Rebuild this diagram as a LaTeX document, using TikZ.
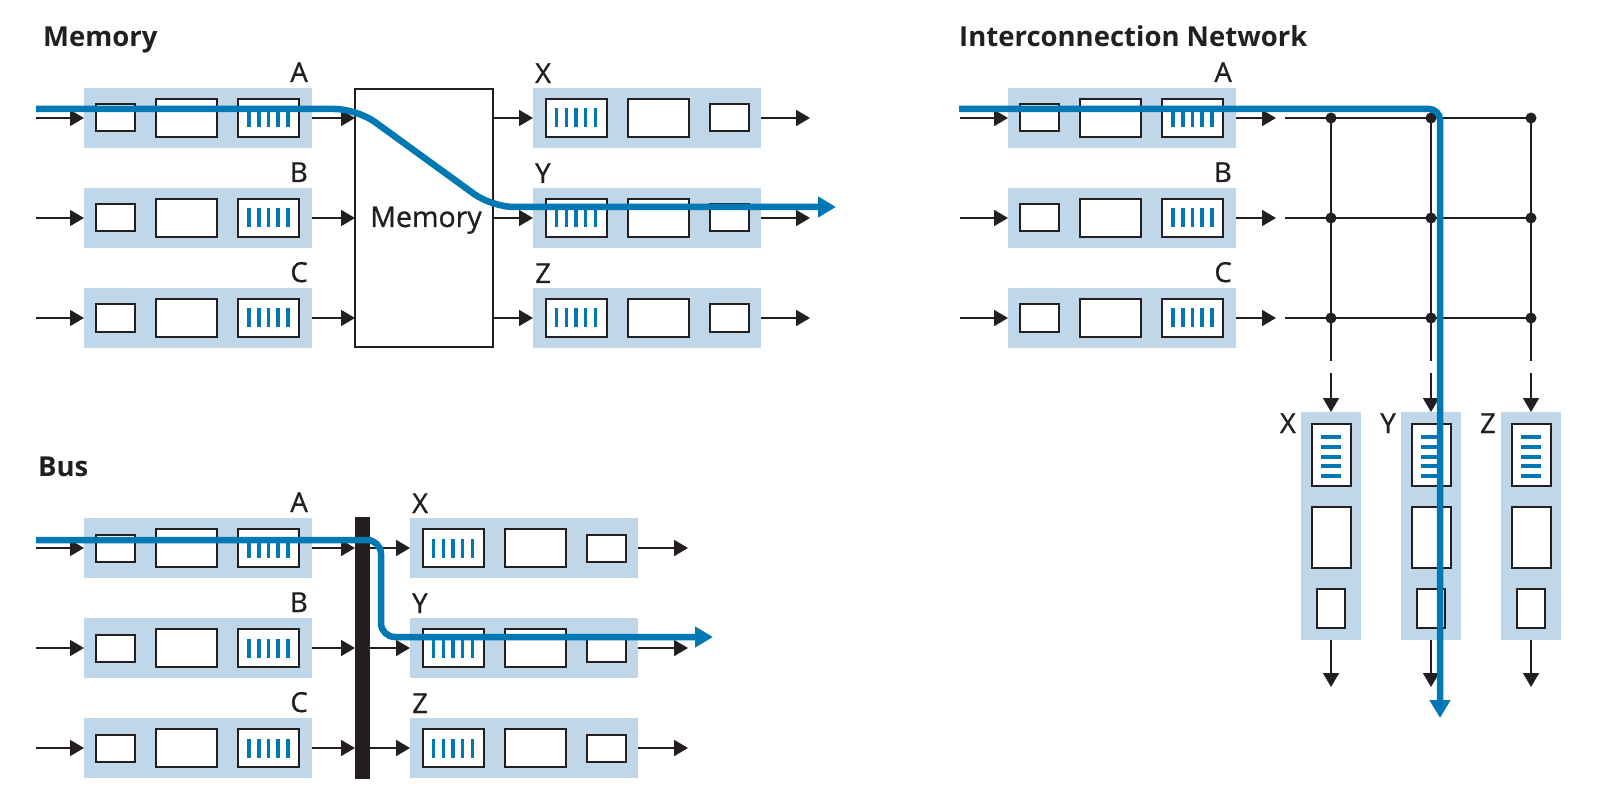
\documentclass[tikz,border=0pt]{standalone}
\usepackage{fontspec}
\setmainfont{Open Sans}
\newfontfamily\labelfont[RawFeature={embolden=0.9}]{Open Sans}
\usetikzlibrary{arrows.meta}

\definecolor{ink}{HTML}{231F20}
\definecolor{portfill}{HTML}{BFD7E9}
\definecolor{flow}{HTML}{0078B3}

\tikzset{
  portbg/.style={fill=portfill, minimum width=228pt, minimum height=60pt, inner sep=0pt, outer sep=0pt},
  portbgv/.style={fill=portfill, minimum width=60pt, minimum height=228pt, inner sep=0pt, outer sep=0pt},
  cell/.style={draw=ink, fill=white, line width=2pt, inner sep=0pt, outer sep=0pt},
  qbar/.style={draw=flow, line width=3.5pt},
  arr/.style={draw=ink, line width=1.8pt, -{Triangle[length=14pt,width=16pt]}},
  gline/.style={draw=ink, line width=2.4pt},
  gdot/.style={circle, fill=ink, minimum size=11pt, inner sep=0pt},
  lbl/.style={font=\labelfont\fontsize{27.5pt}{30pt}\selectfont, text=ink, inner sep=0pt},
  ttl/.style={font=\fontsize{27.5pt}{30pt}\selectfont\bfseries, text=ink, inner sep=0pt, anchor=base west},
  flowline/.style={draw=flow, line width=6.5pt, -{Triangle[length=18pt,width=20pt]}},
}

% input port: name, left x, centre y, label
\newcommand\inport[4]{%
  \node[portbg, anchor=west] (#1) at (#2,#3) {};
  \node[cell, minimum width=39pt, minimum height=27pt] (#1s) at ([xshift=31.5pt]#1.west) {};
  \node[cell, minimum width=61pt, minimum height=38pt] (#1m) at ([xshift=102.5pt]#1.west) {};
  \node[cell, minimum width=61pt, minimum height=38pt] (#1q) at ([xshift=184.5pt]#1.west) {};
  \foreach \k in {-2,...,2}
    \draw[qbar] ([xshift=\k*9.7pt, yshift=-9.5pt]#1q.center) -- ([xshift=\k*9.7pt, yshift=9.5pt]#1q.center);
  \node[lbl, anchor=base east] (#1l) at ([xshift=-4pt, yshift=6pt]#1.north east) {#4};
}

% output port (mirrored): name, left x, centre y, label
\newcommand\outport[4]{%
  \node[portbg, anchor=west] (#1) at (#2,#3) {};
  \node[cell, minimum width=61pt, minimum height=38pt] (#1q) at ([xshift=43pt]#1.west) {};
  \node[cell, minimum width=61pt, minimum height=38pt] (#1m) at ([xshift=125.5pt]#1.west) {};
  \node[cell, minimum width=39pt, minimum height=27pt] (#1s) at ([xshift=196.5pt]#1.west) {};
  \foreach \k in {-2,...,2}
    \draw[qbar] ([xshift=\k*9.7pt, yshift=-9.5pt]#1q.center) -- ([xshift=\k*9.7pt, yshift=9.5pt]#1q.center);
  \node[lbl, anchor=base west] (#1l) at ([xshift=2pt, yshift=5pt]#1.north west) {#4};
}

% vertical output port: name, centre x, top y, label
\newcommand\colport[4]{%
  \node[portbgv, anchor=north] (#1) at (#2,#3) {};
  \node[cell, minimum width=39pt, minimum height=62pt] (#1q) at ([yshift=-43pt]#1.north) {};
  \node[cell, minimum width=39pt, minimum height=61pt] (#1m) at ([yshift=-125.5pt]#1.north) {};
  \node[cell, minimum width=28pt, minimum height=39pt] (#1s) at ([yshift=-196.5pt]#1.north) {};
  \foreach \k in {-2,...,2}
    \draw[qbar, line width=4pt] ([xshift=-10pt, yshift=\k*9.75pt-1.5pt]#1q.center) -- ([xshift=10pt, yshift=\k*9.75pt-1.5pt]#1q.center);
  \node[lbl, anchor=base east] (#1l) at ([xshift=-5pt, yshift=-21pt]#1.north west) {#4};
}

\begin{document}
\begin{tikzpicture}[x=1pt, y=-1pt]
  \fill[white] (0,0) rectangle (1617,810);
  \useasboundingbox (0,0) rectangle (1617,810);

  % ---------- shared memory switch ----------
  \node[ttl] (tmem) at (43,47) {Memory};
  \inport{mA}{84}{118}{A}
  \inport{mB}{84}{218}{B}
  \inport{mC}{84}{318}{C}
  \node[draw=ink, line width=2pt, minimum width=138pt, minimum height=258pt, inner sep=0pt, outer sep=0pt] (mem) at (424,218) {};
  \node[lbl, font=\labelfont\fontsize{28.5pt}{30pt}\selectfont, anchor=base] (memt) at (426,227) {Memory};
  \outport{mX}{533}{118}{X}
  \outport{mY}{533}{218}{Y}
  \outport{mZ}{533}{318}{Z}
  \foreach \p/\q/\y in {A/X/118, B/Y/218, C/Z/318} {
    \coordinate (m\p in) at (36,\y);
    \coordinate (m\q out) at (810,\y);
    \draw[arr] (m\p in) -- (m\p.west);
    \draw[arr] (m\p.east) -- (mem.west |- m\p.east);
    \draw[arr] (mem.east |- m\q.west) -- (m\q.west);
    \draw[arr] (m\q.east) -- (m\q out);
  }

  % ---------- shared bus switch ----------
  \node[ttl] (tbus) at (38,476) {Bus};
  \inport{bA}{84}{548}{A}
  \inport{bB}{84}{648}{B}
  \inport{bC}{84}{748}{C}
  \node[fill=ink, minimum width=15pt, minimum height=262pt, inner sep=0pt, outer sep=0pt, anchor=north west] (bus) at (355,517) {};
  \outport{bX}{410}{548}{X}
  \outport{bY}{410}{648}{Y}
  \outport{bZ}{410}{748}{Z}
  \foreach \p/\q/\y in {A/X/548, B/Y/648, C/Z/748} {
    \coordinate (b\p in) at (36,\y);
    \coordinate (b\q out) at (688,\y);
    \draw[arr] (b\p in) -- (b\p.west);
    \draw[arr] (b\p.east) -- (bus.west |- b\p.east);
    \draw[arr] (bus.east |- b\q.west) -- (b\q.west);
    \draw[arr] (b\q.east) -- (b\q out);
  }

  % ---------- crossbar interconnection network ----------
  \node[ttl] (tnet) at (959,47) {Interconnection Network};
  \inport{iA}{1008}{118}{A}
  \inport{iB}{1008}{218}{B}
  \inport{iC}{1008}{318}{C}
  \foreach \p/\y in {A/118, B/218, C/318} {
    \coordinate (i\p in) at (960,\y);
    \coordinate (i\p out) at (1276,\y);
    \coordinate (g\p) at (1285,\y);
    \draw[arr] (i\p in) -- (i\p.west);
    \draw[arr] (i\p.east) -- (i\p out);
  }
  \foreach \c/\x in {1/1331, 2/1431, 3/1531} {
    \coordinate (v\c) at (\x,361);
    \draw[gline] (\x,118) -- (v\c);
  }
  \foreach \p/\y in {A/118, B/218, C/318} {
    \draw[gline] (g\p) -- (1531,\y);
    \foreach \c/\x in {1/1331, 2/1431, 3/1531}
      \node[gdot] (d\p\c) at (\x,\y) {};
  }
  \colport{iX}{1331}{412}{X}
  \colport{iY}{1431}{412}{Y}
  \colport{iZ}{1531}{412}{Z}
  \foreach \q/\x in {X/1331, Y/1431, Z/1531} {
    \coordinate (i\q in) at (\x,373);
    \coordinate (i\q out) at (\x,687);
    \draw[arr] (i\q in) -- (i\q.north);
    \draw[arr] (i\q.south) -- (i\q out);
  }

  % ---------- packet paths ----------
  \coordinate (f1s) at (36,109);
  \coordinate (f1a) at (357,109);
  \coordinate (f1b) at (492,207);
  \coordinate (f1e) at (836,207);
  \draw[flowline, rounded corners=22pt] (f1s) -- (f1a) -- (f1b) -- (f1e);

  \coordinate (f2s) at (36,540);
  \coordinate (f2a) at (381,540);
  \coordinate (f2b) at (381,637);
  \coordinate (f2e) at (713,637);
  \draw[flowline, rounded corners=14pt] (f2s) -- (f2a) -- (f2b) -- (f2e);

  \coordinate (f3s) at (959,109);
  \coordinate (f3a) at (1440,109);
  \coordinate (f3e) at (1440,718);
  \draw[flowline, rounded corners=11pt] (f3s) -- (f3a) -- (f3e);
\end{tikzpicture}
\end{document}
